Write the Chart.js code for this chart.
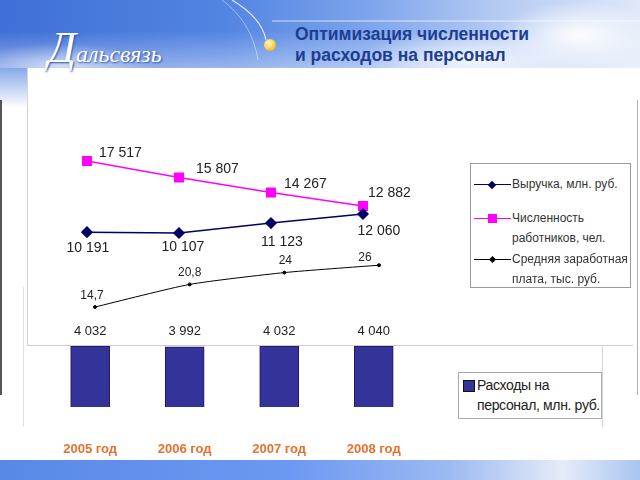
<!DOCTYPE html>
<html>
<head>
<meta charset="utf-8">
<script src="https://cdn.jsdelivr.net/npm/chart.js@4/dist/chart.umd.min.js"></script>
<style>
html, body { margin: 0; padding: 0; }
body { width: 640px; height: 480px; position: relative; overflow: hidden; background: #fff;
       font-family: "Liberation Sans", Arial, sans-serif; }
.abs { position: absolute; }
#head { left: 0; top: 0; width: 640px; height: 68px;
  background:
    linear-gradient(to bottom, rgba(255,255,255,0) 45%, rgba(255,255,255,0.4) 100%),
    radial-gradient(ellipse 110px 45px at 580px 35px, rgba(255,255,255,0.95), rgba(255,255,255,0) 75%),
    radial-gradient(ellipse 150px 40px at 470px 60px, rgba(255,255,255,0.75), rgba(255,255,255,0) 75%),
    radial-gradient(ellipse 120px 30px at 60px 66px, rgba(255,255,255,0.6), rgba(255,255,255,0) 75%),
    linear-gradient(to right, #3f6fd6 0%, #5284e2 35%, #7ea5ec 58%, #b5cbf3 78%, #dfe8f8 100%); }
#leftsky { left: 0; top: 68px; width: 27px; height: 40px;
  background: linear-gradient(to bottom, #86a9ea, #ffffff); }
#title { left: 295px; top: 24px; color: #1d3d92; font-weight: bold; font-size: 17.5px; line-height: 21px; }
#logo { left: 48px; top: 22px; color: #fff; font-family: "Liberation Serif", "DejaVu Serif", serif;
  font-style: italic; font-size: 24px; text-shadow: 1px 1px 2px #2c52a8; white-space: nowrap; }
#logo span { font-size: 44px; }
#dot { left: 264px; top: 39px; width: 12px; height: 12px; border-radius: 50%;
  background: radial-gradient(circle at 40% 35%, #fffbd0, #f6c93a 60%, #d89a18); }
#band { left: 0; top: 460px; width: 640px; height: 20px;
  background: linear-gradient(to right, #5a88e6 0%, #6b98f2 45%, #9cb9f2 70%, #e4ecf9 88%, #aac4f2 100%); }
.line { position: absolute; }
.legend { position: absolute; background: #fff; color: #333; white-space: nowrap; }
.entry { position: absolute; left: 0; }
.mk { position: absolute; left: 3px; width: 37px; height: 0; }
.mk i { position: absolute; display: block; }
.txt { position: absolute; left: 41px; }
canvas { position: absolute; }
</style>
</head>
<body>
<div id="head" class="abs"></div>
<div id="leftsky" class="abs"></div>
<svg class="abs" style="left:0;top:0" width="640" height="68">
  <path d="M232 0 Q262 18 266 40" stroke="#ffffff" stroke-opacity="0.8" stroke-width="1.2" fill="none"/>
  <path d="M222 0 Q252 22 258 60" stroke="#ffffff" stroke-opacity="0.45" stroke-width="1" fill="none"/>
  <line x1="272" y1="21" x2="640" y2="21" stroke="#ffffff" stroke-opacity="0.7" stroke-width="1"/>
</svg>
<div id="logo" class="abs"><span>Д</span>альсвязь</div>
<div id="dot" class="abs"></div>
<div id="title" class="abs">Оптимизация численности<br>и расходов на персонал</div>

<div class="line" style="left:0;top:100px;width:2px;height:295px;background:#555"></div>
<div class="line" style="left:637px;top:100px;width:1px;height:295px;background:#b0b0b0"></div>
<div class="line" style="left:27px;top:68px;width:1px;height:277px;background:#d6d6d6"></div>
<div class="line" style="left:27px;top:345px;width:606px;height:1px;background:#cccccc"></div>
<div class="line" style="left:602px;top:345px;width:1px;height:82px;background:#d6d6d6"></div>
<div class="line" style="left:23px;top:287px;width:1px;height:140px;background:#e2e2e2"></div>
<div id="band" class="abs"></div>

<canvas id="lines" width="600" height="277" style="left:27px;top:68px"></canvas>
<canvas id="bars" width="600" height="170" style="left:27px;top:300px"></canvas>

<div id="legend1" class="legend" style="left:470px;top:163px;width:159px;height:123px;border:1px solid #9a9a9a;font-size:12px;line-height:20px"></div>
<div id="legend2" class="legend" style="left:458px;top:372px;width:142px;height:45px;border:1px solid #aaaaaa;font-size:14px;letter-spacing:-0.35px;line-height:20px;color:#222"></div>

<script>
// значения с графика
const years = ['2005 год', '2006 год', '2007 год', '2008 год'];
const revenue = [10191, 10107, 11123, 12060];
const staff = [17517, 15807, 14267, 12882];
const salary = [14.7, 20.8, 24, 26];
const costs = [4032, 3992, 4032, 4040];

const lineNames = [
    ['Выручка, млн. руб.'],
    ['Численность', 'работников, чел.'],
    ['Средняя заработная', 'плата, тыс. руб.']
];
const barName = ['Расходы на', 'персонал, млн. руб.'];

const revColor = '#000066';
const staffColor = '#ff00ff';
const salColor = '#000000';
const barColor = '#333399';

function fmt(v) {
    if (v >= 1000) return String(v).replace(/\B(?=(\d{3})+(?!\d))/g, ' ');
    return String(v).replace('.', ',');
}

const lineLabels = {
    id: 'lineLabels',
    afterDatasetsDraw(chart) {
        const ctx = chart.ctx;
        chart.data.datasets.forEach((ds, di) => {
            const meta = chart.getDatasetMeta(di);
            const o = ds.lbl;
            ctx.save();
            ctx.font = o.font;
            ctx.fillStyle = '#222';
            ctx.textAlign = o.align;
            ctx.textBaseline = 'middle';
            meta.data.forEach((pt, i) => {
                ctx.fillText(fmt(ds.data[i].y), pt.x + o.dx[i], pt.y + o.dy[i]);
            });
            ctx.restore();
        });
    }
};

const barLabels = {
    id: 'barLabels',
    afterDatasetsDraw(chart) {
        const ctx = chart.ctx;
        const meta = chart.getDatasetMeta(0);
        ctx.save();
        ctx.font = '13px "Liberation Sans", Arial, sans-serif';
        ctx.fillStyle = '#222';
        ctx.textAlign = 'center';
        ctx.textBaseline = 'middle';
        meta.data.forEach((bar, i) => {
            ctx.fillText(fmt(chart.data.datasets[0].data[i]), bar.x, bar.y - 15);
        });
        ctx.restore();
    }
};

const font14 = '14px "Liberation Sans", Arial, sans-serif';
const font12 = '12px "Liberation Sans", Arial, sans-serif';

new Chart(document.getElementById('lines'), {
    type: 'line',
    data: {
        datasets: [{
            label: lineNames[0].join(' '),
            data: revenue.map((v, i) => ({x: i, y: v})),
            borderColor: revColor,
            backgroundColor: revColor,
            borderWidth: 1.5,
            pointStyle: 'rectRot',
            pointRadius: 5,
            xAxisID: 'x', yAxisID: 'y',
            lbl: {font: font14, align: 'center', dx: [1, 4, 11, 16], dy: [16, 14, 19, 17]}
        }, {
            label: lineNames[1].join(' '),
            data: staff.map((v, i) => ({x: i, y: v})),
            borderColor: staffColor,
            backgroundColor: staffColor,
            borderWidth: 1.5,
            pointStyle: 'rect',
            pointRadius: 6,
            xAxisID: 'x', yAxisID: 'y',
            lbl: {font: font14, align: 'left', dx: [12, 17, 13, 5], dy: [-8, -8, -8, -13]}
        }, {
            label: lineNames[2].join(' '),
            data: salary.map((v, i) => ({x: i, y: v})),
            borderColor: salColor,
            backgroundColor: salColor,
            borderWidth: 1,
            pointRadius: 1.5,
            tension: 0.2,
            xAxisID: 'x2', yAxisID: 'y2',
            lbl: {font: font12, align: 'center', dx: [-3, 0, 1, -14], dy: [-11, -12, -12, -8]}
        }]
    },
    options: {
        responsive: false,
        animation: false,
        devicePixelRatio: 1,
        layout: {padding: 0, autoPadding: false},
        plugins: {legend: {display: false}, tooltip: {enabled: false}},
        scales: {
            x: {type: 'linear', display: false, min: -0.652, max: 5.87},
            x2: {type: 'linear', display: false, min: -0.718, max: 5.62},
            y: {display: false, min: -1435, max: 27096},
            y2: {display: false, min: 4.43, max: 79.3}
        }
    },
    plugins: [lineLabels]
});

new Chart(document.getElementById('bars'), {
    type: 'bar',
    data: {
        labels: years,
        datasets: [{
            label: barName.join(' '),
            data: costs,
            backgroundColor: barColor,
            borderColor: '#1c1c55',
            borderWidth: 1,
            barThickness: 39
        }]
    },
    options: {
        responsive: false,
        animation: false,
        devicePixelRatio: 1,
        layout: {padding: {top: 46, left: 10, right: 206, bottom: 0}, autoPadding: false},
        plugins: {legend: {display: false}, tooltip: {enabled: false}},
        scales: {
            x: {
                grid: {display: false, drawTicks: false},
                border: {display: false},
                ticks: {color: '#e8702c', padding: 35, maxRotation: 0,
                        font: {family: '"Liberation Sans", Arial, sans-serif', size: 13, weight: 'bold'}},
                afterFit(s) { s.height = 63; }
            },
            y: {display: false, min: 0, max: 4040}
        }
    },
    plugins: [barLabels]
});

// легенды
function marker(kind, color) {
    const m = document.createElement('div');
    m.className = 'mk';
    m.style.borderTop = '1px solid ' + color;
    const p = document.createElement('i');
    if (kind === 'rect') {
        p.style.cssText = 'left:14px;top:-5px;width:9px;height:9px;background:' + color;
    } else {
        const s = kind === 'small' ? 5 : 6;
        p.style.cssText = 'left:' + (18 - s / 2) + 'px;top:' + (-s / 2 - 0.5) + 'px;width:' + s + 'px;height:' + s +
            'px;background:' + color + ';transform:rotate(45deg)';
    }
    m.appendChild(p);
    return m;
}

const leg1 = document.getElementById('legend1');
const kinds = [['diamond', revColor], ['rect', staffColor], ['small', salColor]];
const tops = [10, 44, 85];
lineNames.forEach((name, i) => {
    const e = document.createElement('div');
    e.className = 'entry';
    e.style.top = tops[i] + 'px';
    e.style.width = '159px';
    const m = marker(kinds[i][0], kinds[i][1]);
    m.style.top = '10px';
    e.appendChild(m);
    const t = document.createElement('div');
    t.className = 'txt';
    t.innerHTML = name.join('<br>');
    e.appendChild(t);
    leg1.appendChild(e);
});

const leg2 = document.getElementById('legend2');
const sq = document.createElement('div');
sq.style.cssText = 'position:absolute;left:4px;top:7px;width:10px;height:10px;border:1px solid #111;background:' + barColor;
leg2.appendChild(sq);
const t2 = document.createElement('div');
t2.style.cssText = 'position:absolute;left:18px;top:2px';
t2.innerHTML = barName.join('<br>');
leg2.appendChild(t2);
</script>
</body>
</html>
